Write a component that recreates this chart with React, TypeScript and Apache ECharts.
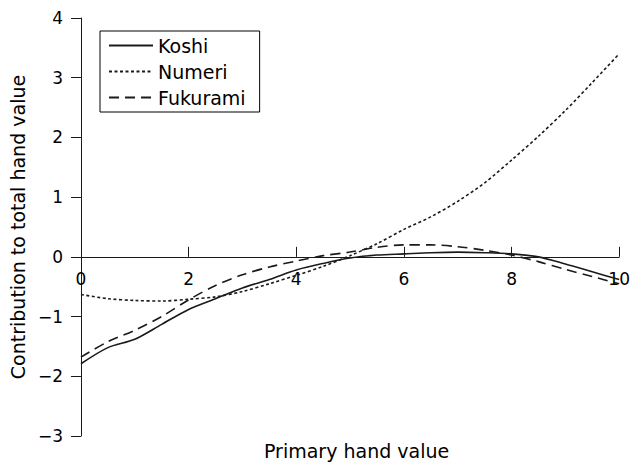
import React, { useEffect, useRef } from "react";
import * as echarts from "echarts";

const xs = [0, 0.5, 1, 1.5, 2, 2.5, 3, 3.5, 4, 4.5, 5, 5.5, 6, 6.5, 7, 7.5, 8, 8.5, 9, 9.5, 10];
const koshi = [-1.79, -1.52, -1.38, -1.13, -0.88, -0.7, -0.52, -0.38, -0.22, -0.11, -0.02, 0.03, 0.05, 0.07, 0.08, 0.07, 0.05, 0.0, -0.12, -0.25, -0.38];
const numeri = [-0.63, -0.7, -0.73, -0.74, -0.71, -0.67, -0.58, -0.45, -0.31, -0.16, 0.02, 0.22, 0.46, 0.67, 0.93, 1.24, 1.62, 2.02, 2.45, 2.92, 3.4];
const fukurami = [-1.68, -1.42, -1.23, -1.0, -0.72, -0.48, -0.3, -0.17, -0.07, 0.02, 0.08, 0.16, 0.2, 0.2, 0.17, 0.11, 0.03, -0.08, -0.21, -0.33, -0.45];
const seriesNames = ["Koshi", "Numeri", "Fukurami"];
const xTitle = "Primary hand value";
const yTitle = "Contribution to total hand value";
const yMin = -3;
const yMax = 4;

const FONT = "DejaVu Sans";
const INK = "#1a1a1a";

export default function App() {
  const ref = useRef<HTMLDivElement>(null);
  useEffect(() => {
    if (!ref.current) return;
    const chart = echarts.init(ref.current, undefined, { renderer: "svg" });
    const pair = (ys: number[]) => xs.map((x, i) => [x, ys[i]]);
    const mk = (name: string, ys: number[], type: any) => ({
      name,
      type: "line",
      data: pair(ys),
      smooth: 0.3,
      symbol: "none",
      lineStyle: { color: INK, width: 1.6, type },
      itemStyle: { color: INK },
    });
    const top = 18;
    const bottom = 27;
    const gridH = 463 - top - bottom;
    // place the x axis where y = 0 lies
    const zeroOffset = -(gridH * (0 - yMin)) / (yMax - yMin);
    chart.setOption({
      animation: false,
      backgroundColor: "#fff",
      textStyle: { fontFamily: FONT },
      grid: { left: 78, right: 13, top, bottom, containLabel: false },
      legend: {
        data: seriesNames,
        orient: "vertical",
        left: 100,
        top: 31,
        borderColor: "#000",
        borderWidth: 1,
        padding: [5, 14, 5, 8],
        itemWidth: 44,
        itemHeight: 14,
        itemGap: 7,
        itemStyle: { opacity: 0 },
        textStyle: { fontSize: 19, fontFamily: FONT, color: "#000" },
      },
      xAxis: {
        type: "value",
        min: 0,
        max: 10,
        interval: 2,
        position: "bottom",
        offset: zeroOffset,
        axisLine: { onZero: false, lineStyle: { color: INK, width: 1 } },
        axisTick: { inside: true, length: 10, lineStyle: { color: INK } },
        axisLabel: { margin: 14, fontSize: 17, color: "#000", fontFamily: FONT },
        splitLine: { show: false },
      },
      yAxis: {
        type: "value",
        min: yMin,
        max: yMax,
        interval: 1,
        name: yTitle,
        nameLocation: "middle",
        nameGap: 48,
        nameTextStyle: { fontSize: 19, color: "#000", fontFamily: FONT },
        axisLine: { show: true, onZero: false, lineStyle: { color: INK, width: 1 } },
        axisTick: { show: true, length: 10, lineStyle: { color: INK } },
        axisLabel: {
          margin: 18,
          fontSize: 17,
          color: "#000",
          fontFamily: FONT,
          formatter: (v: number) => (v < 0 ? "\u2212" + Math.abs(v) : String(v)),
        },
        splitLine: { show: false },
      },
      graphic: [
        {
          type: "text",
          left: 264,
          top: 441,
          style: { text: xTitle, fontSize: 19, fontFamily: FONT, fill: "#000" },
        },
      ],
      series: [
        mk(seriesNames[0], koshi, "solid"),
        mk(seriesNames[1], numeri, [3, 2.5]),
        mk(seriesNames[2], fukurami, [10, 6]),
      ],
    });
    return () => chart.dispose();
  }, []);
  return <div ref={ref} style={{ position: "fixed", left: 0, top: 0, width: 633, height: 463 }} />;
}
